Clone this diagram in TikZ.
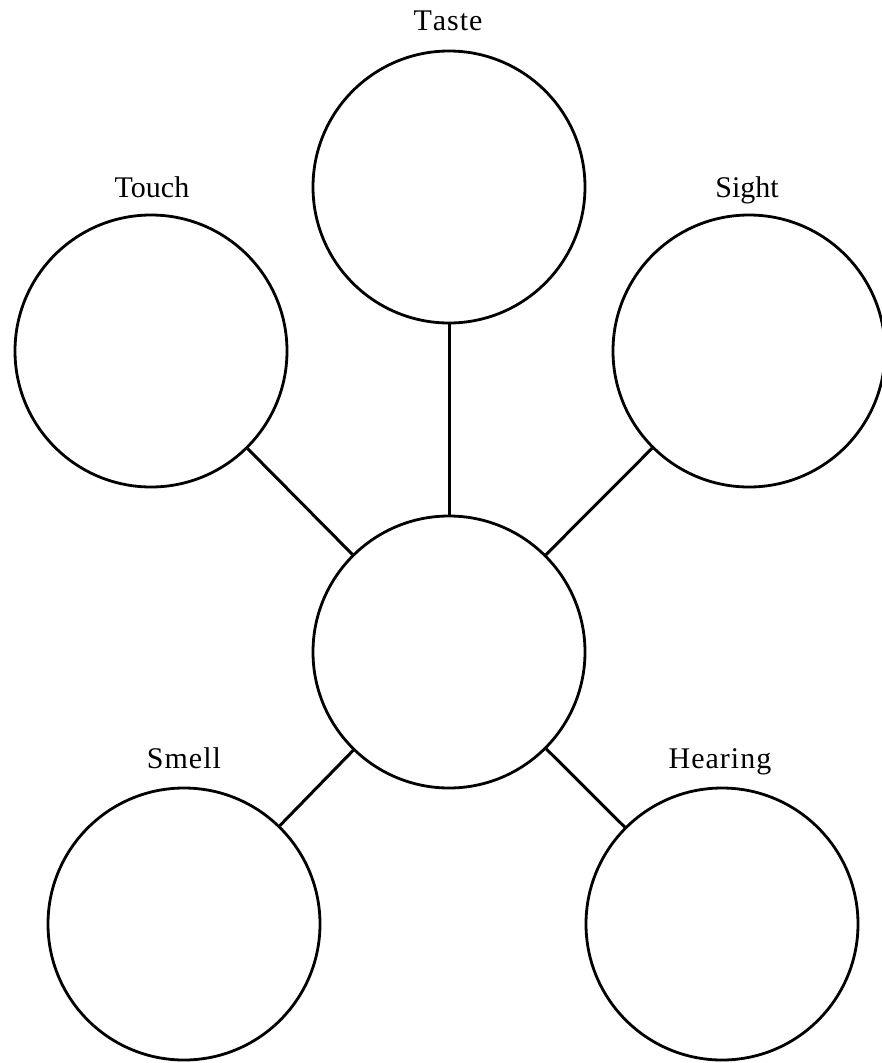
\documentclass[tikz,border=0pt]{standalone}
\usepackage{fontspec}
\setmainfont{Liberation Serif}
\begin{document}
\begin{tikzpicture}[x=1pt,y=-1pt,
  sense/.style={circle,draw=black,line width=2.8pt,minimum size=272pt,inner sep=0pt},
  lbl/.style={anchor=base,font=\fontsize{30}{31}\selectfont},
  link/.style={line width=3pt}]
\useasboundingbox[fill=white] (0,0) rectangle (882,1063);
\node[sense] (ctr) at (449,652) {};
\node[sense] (taste) at (449,187) {};
\node[sense] (touch) at (151,351) {};
\node[sense] (sight) at (749,351) {};
\node[sense] (smell) at (184,924) {};
\node[sense] (hearing) at (722,924) {};
\node[lbl] (ltaste) at (448,30) {T\kern1pt a\kern1pt s\kern1pt t\kern1pt e};
\node[lbl] (ltouch) at (152,197) {Touch};
\node[lbl] (lsight) at (747,197) {Sight};
\node[lbl] (lsmell) at (184,768) {S\kern1pt m\kern1pt e\kern1pt l\kern1pt l};
\node[lbl] (lhearing) at (720,768) {H\kern1pt e\kern1pt a\kern1pt r\kern1pt i\kern1pt n\kern1pt g};
\draw[link] (ctr) -- (taste);
\draw[link] (ctr) -- (touch);
\draw[link] (ctr) -- (sight);
\draw[link] (ctr) -- (smell);
\draw[link] (ctr) -- (hearing);
\end{tikzpicture}
\end{document}
